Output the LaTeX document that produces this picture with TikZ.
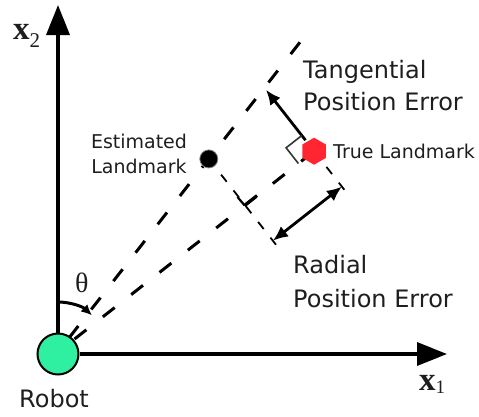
\documentclass[tikz,border=0pt]{standalone}
\usepackage{fontspec}
\setmainfont{DejaVu Sans}
\newfontfamily\serifgr{Liberation Serif}
\usetikzlibrary{arrows.meta,shapes.geometric,calc}
\definecolor{mint}{RGB}{46,240,160}
\definecolor{lmred}{RGB}{255,38,50}
\definecolor{txt}{RGB}{30,30,30}
\begin{document}
\begin{tikzpicture}[x=1pt,y=-1pt,
  big/.style={font=\fontsize{24}{24}\selectfont, text=txt, inner sep=0pt},
  small/.style={font=\fontsize{19}{19}\selectfont, text=txt, inner sep=0pt},
  axis/.style={line width=3.5pt, -{Triangle[length=30pt,width=23pt]}},
  thickdash/.style={line width=3pt, dash pattern=on 15pt off 21pt, dash phase=18pt},
  thindash/.style={line width=1.8pt, dash pattern=on 9pt off 11pt},
  errarrow/.style={line width=2.8pt, -{Latex[length=15pt,width=13pt]}},
  dblarrow/.style={line width=2.8pt, {Latex[length=15pt,width=13pt]}-{Latex[length=15pt,width=13pt]}},
  anglemark/.style={line width=1.6pt, black!80},
]
\useasboundingbox (0,0) rectangle (479,416);
% key points
\coordinate (O) at (58,352);
\coordinate (T) at (314.1,151.2);
\coordinate (E) at (208.8,158.9);
\coordinate (Up) at (302.4,39.1);
\coordinate (F) at (244.5,205.3);
\coordinate (Fend) at (282.1,252.5);
\coordinate (Tend) at (349.9,196.8);
\coordinate (A1) at (341.9,186.6);
\coordinate (A2) at (272.9,240.7);
\coordinate (Ts) at (305.5,140.2);
\coordinate (Tt) at (266.0,89.8);
\coordinate (x2tip) at (58,5);
\coordinate (x1tip) at (447,354);
\coordinate (thstart) at (58,302);
\coordinate (ma1) at (301.8,135.5);
\coordinate (ma2) at (286.1,147.8);
\coordinate (ma3) at (298.4,163.5);
\coordinate (mb1) at (237.5,197.0);
\coordinate (mb3) at (257.0,195.5);
% bearing lines
\draw[thickdash] (O) -- (Up);
\draw[thickdash, dash phase=15pt] (O) -- (T);
% projections
\draw[thindash] (E) -- (Fend);
\draw[thindash] (T) -- (Tend);
% error arrows
\draw[dblarrow] (A1) -- (A2);
\draw[errarrow] (Ts) -- (Tt);
% right angle marks
\draw[anglemark] (ma1) -- (ma2) -- (ma3);
\draw[line width=2.2pt, black] (mb1) -- (F);
\draw[line width=3pt, black] (F) -- (mb3);
% theta arc
\draw[line width=3pt, -{Latex[length=11pt,width=10pt]}] (thstart) arc[start angle=-90, end angle=-47, radius=50];
% nodes
\node[circle, fill=mint, draw=black, line width=2pt, minimum size=41pt, inner sep=0pt] (robot) at (58,354) {};
\node[circle, fill=black, draw=black!50, line width=0.8pt, minimum size=18pt, inner sep=0pt] (est) at (E) {};
\node[regular polygon, regular polygon sides=6, rotate=30, fill=lmred, minimum size=27pt, inner sep=0pt] (true) at (T) {};
% axes
\draw[axis] (robot.north) -- (x2tip);
\draw[axis] (robot.east) -- (x1tip);
% labels
\node[anchor=base west, inner sep=0pt, text=txt] (x2lab) at (13,39) {\serifgr\fontsize{33}{33}\selectfont\bfseries x\raisebox{-8pt}{\fontsize{21}{21}\selectfont\mdseries 2}};
\node[anchor=base west, inner sep=0pt, text=txt] (x1lab) at (419,390) {\serifgr\fontsize{33}{33}\selectfont\bfseries x\raisebox{-3pt}{\fontsize{19}{19}\selectfont\mdseries 1}};
\node[anchor=base west, inner sep=0pt, text=txt] (thlab) at (75,292) {\serifgr\fontsize{28}{28}\selectfont θ};
\node[big, anchor=base west] (robotlab) at (19,407) {Robot};
\node[big, anchor=base west] (tang1) at (303,78) {Tangential};
\node[big, anchor=base west] (tang2) at (303,110) {Position Error};
\node[big, anchor=base west] (rad1) at (293,273) {Radial};
\node[big, anchor=base west] (rad2) at (293,307) {Position Error};
\node[small, anchor=base] (est1) at (139,148) {Estimated};
\node[small, anchor=base] (est2) at (139,173) {Landmark};
\node[small, anchor=base west] (truelab) at (333,158) {True Landmark};
\end{tikzpicture}
\end{document}
